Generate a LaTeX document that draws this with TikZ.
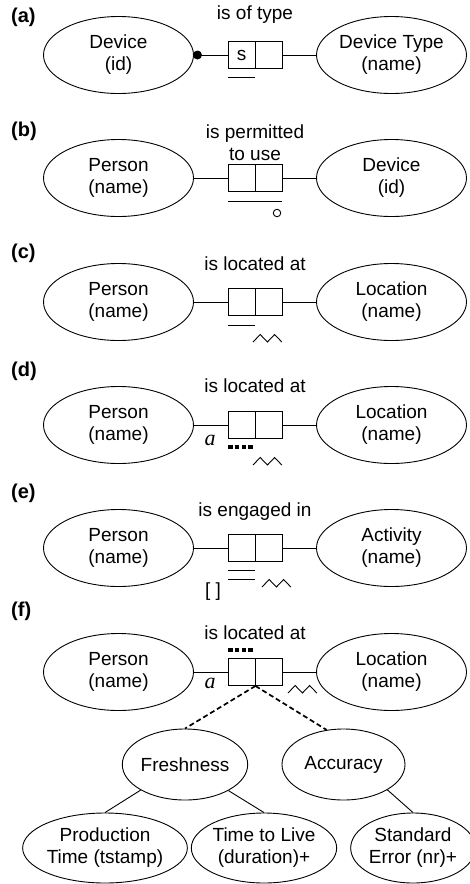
\documentclass[tikz,border=0pt]{standalone}
\usepackage{fontspec}
\setmainfont{Liberation Sans}
\newfontfamily\timesfont{Liberation Serif}
\usetikzlibrary{shapes.geometric}
\newcommand{\zigmark}[1]{\draw[conn] (#1) -- ++(7.2,-7.5) -- ++(7.2,7.5) -- ++(7.2,-7.5) -- ++(7.2,7.5);}
\begin{document}
\begin{tikzpicture}[x=1pt,y=-1pt,
  every node/.style={font=\fontsize{19}{22}\selectfont},
  ent/.style={draw, ellipse, line width=0.9pt, minimum width=150pt, minimum height=77pt, inner sep=0pt, align=center},
  sub/.style={draw, ellipse, line width=0.9pt, minimum width=123pt, minimum height=71pt, inner sep=0pt, align=center},
  cell/.style={draw, rectangle, line width=0.9pt, minimum width=27pt, minimum height=27pt, inner sep=0pt},
  conn/.style={line width=0.9pt},
  dashconn/.style={line width=1.7pt, dash pattern=on 5pt off 3pt},
  dotsbar/.style={line width=4pt, dash pattern=on 4.6pt off 2.2pt},
  plabel/.style={font=\fontsize{20}{22}\bfseries\selectfont, anchor=base west, inner sep=0pt},
  pred/.style={anchor=base, inner sep=0pt},
  varmark/.style={font=\fontsize{22}{22}\timesfont\itshape, inner sep=0pt},
  dotmark/.style={circle, fill, minimum size=9pt, inner sep=0pt},
  ringmark/.style={circle, draw, line width=0.9pt, minimum size=7.5pt, inner sep=0pt}
]
\useasboundingbox (0,0) rectangle (470,884);
\fill[white] (0,0) rectangle (470,884);

% ---------- (a)
\node[plabel] (la) at (11,22) {(a)};
\node[ent] (a1) at (118.5,55) {Device\\(id)};
\node[ent] (a2) at (391.5,55) {Device Type\\(name)};
\node[cell] (a3) at (241.5,55) {s};
\node[cell] (a4) at (268.5,55) {};
\node[pred] (a5) at (255,19) {is of type};
\draw[conn] (a1.east) -- (a3.west);
\draw[conn] (a4.east) -- (a2.west);
\node[dotmark] (a6) at ([xshift=3.5pt]a1.east) {};
\draw[conn] ([yshift=-8.5pt]a3.south west) -- ([yshift=-8.5pt]a3.south east);

% ---------- (b)
\node[plabel] (lb) at (11,136) {(b)};
\node[ent] (b1) at (118.5,178) {Person\\(name)};
\node[ent] (b2) at (391.5,178) {Device\\(id)};
\node[cell] (b3) at (241.5,178) {};
\node[cell] (b4) at (268.5,178) {};
\node[pred] (b5) at (255,138) {is permitted};
\node[pred] (b6) at (255,160) {to use};
\draw[conn] (b1.east) -- (b3.west);
\draw[conn] (b4.east) -- (b2.west);
\draw[conn] ([yshift=-9pt]b3.south west) -- ([yshift=-9pt]b4.south east);
\node[ringmark] (b7) at (277,213) {};

% ---------- (c)
\node[plabel] (lc) at (11,258) {(c)};
\node[ent] (c1) at (118.5,302) {Person\\(name)};
\node[ent] (c2) at (391.5,302) {Location\\(name)};
\node[cell] (c3) at (241.5,302) {};
\node[cell] (c4) at (268.5,302) {};
\node[pred] (c5) at (255,270) {is located at};
\draw[conn] (c1.east) -- (c3.west);
\draw[conn] (c4.east) -- (c2.west);
\draw[conn] ([yshift=-9pt]c3.south west) -- ([yshift=-9pt]c3.south east);
\coordinate (c6) at (253,342);
\zigmark{c6}

% ---------- (d)
\node[plabel] (ld) at (11,376) {(d)};
\node[ent] (d1) at (118.5,425) {Person\\(name)};
\node[ent] (d2) at (391.5,425) {Location\\(name)};
\node[cell] (d3) at (241.5,425) {};
\node[cell] (d4) at (268.5,425) {};
\node[pred] (d5) at (255,392) {is located at};
\draw[conn] (d1.east) -- (d3.west);
\draw[conn] (d4.east) -- (d2.west);
\node[varmark] (d6) at (210,440) {a};
\draw[dotsbar] (228,447) -- (253,447);
\coordinate (d7) at (253,465);
\zigmark{d7}

% ---------- (e)
\node[plabel] (le) at (11,498) {(e)};
\node[ent] (e1) at (118.5,548) {Person\\(name)};
\node[ent] (e2) at (391.5,548) {Activity\\(name)};
\node[cell] (e3) at (241.5,548) {};
\node[cell] (e4) at (268.5,548) {};
\node[pred] (e5) at (255,516) {is engaged in};
\draw[conn] (e1.east) -- (e3.west);
\draw[conn] (e4.east) -- (e2.west);
\draw[conn] ([yshift=-8.5pt]e3.south west) -- ([yshift=-8.5pt]e3.south east);
\draw[conn] ([yshift=-17.5pt]e3.south west) -- ([yshift=-17.5pt]e3.south east);
\node[inner sep=0pt] (e6) at (213,591.5) {[ ]};
\coordinate (e7) at (262,587);
\zigmark{e7}

% ---------- (f)
\node[plabel] (lf) at (11,616) {(f)};
\node[ent] (f1) at (118.5,672) {Person\\(name)};
\node[ent] (f2) at (391.5,672) {Location\\(name)};
\node[cell] (f3) at (241.5,672) {};
\node[cell] (f4) at (268.5,672) {};
\node[pred] (f5) at (255,639) {is located at};
\draw[conn] (f1.east) -- (f3.west);
\draw[conn] (f4.east) -- (f2.west);
\draw[dotsbar] (228,650) -- (253,650);
\node[varmark] (f6) at (210,683) {a};
\coordinate (f7) at (288,693);
\zigmark{f7}

\node[sub] (g1) at (185,764.5) {Freshness};
\node[sub] (g2) at (343.5,764.5) {Accuracy};
\node[sub, minimum width=124pt, minimum height=70pt] (h1) at (105,848) {Production\\Time (tstamp)};
\node[sub, minimum width=122pt, minimum height=70pt] (h2) at (264,848) {Time to Live\\(duration)+};
\node[sub, minimum width=122pt, minimum height=70pt] (h3) at (413,848) {Standard\\Error (nr)+};
\draw[dashconn] (f3.south east) -- (g1.north);
\draw[dashconn] (f3.south east) -- (g2.116);
\draw[conn] (g1.210) -- (h1.north);
\draw[conn] (g1.329) -- (h2.north);
\draw[conn] (g2.330) -- (h3.north);
\end{tikzpicture}
\end{document}
